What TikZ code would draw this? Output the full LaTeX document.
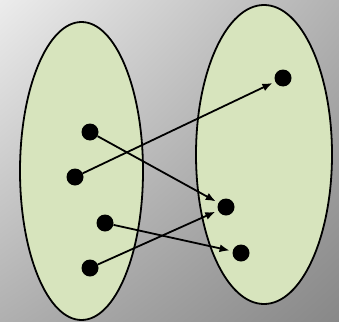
\documentclass[tikz,border=0pt]{standalone}
\usetikzlibrary{arrows.meta,shadings}
\definecolor{setfill}{HTML}{D7E4BD}
\definecolor{bgul}{RGB}{236,236,236}
\definecolor{bgur}{RGB}{178,178,178}
\definecolor{bgll}{RGB}{176,176,176}
\definecolor{bglr}{RGB}{136,136,136}
\tikzset{
  setshape/.style={draw=black, line width=1.8pt, fill=setfill},
  elem/.style={circle, fill=black, inner sep=0pt, minimum size=17pt},
  mapto/.style={-{Latex[length=10pt,width=8pt]}, line width=1.8pt, shorten >=3pt}
}
\begin{document}
\begin{tikzpicture}[x=1pt,y=-1pt]
\useasboundingbox (0,0) rectangle (339,321);
\shade[upper left=bgul, upper right=bgur, lower left=bgll, lower right=bglr]
  (0,0) rectangle (339,321);
\draw[setshape] (81.5,171) ellipse [x radius=61.5, y radius=149];
\draw[setshape] (264,154.5) ellipse [x radius=68, y radius=149.5];
\node[elem] (a1) at (90,132) {};
\node[elem] (a2) at (75,177) {};
\node[elem] (a3) at (105,223) {};
\node[elem] (a4) at (90,268) {};
\node[elem] (b1) at (283,78) {};
\node[elem] (b2) at (226,207) {};
\node[elem] (b3) at (241,253) {};
\draw[mapto] (a2) -- (b1);
\draw[mapto] (a1) -- (b2);
\draw[mapto] (a3) -- (b3);
\draw[mapto] (a4) -- (b2);
\end{tikzpicture}
\end{document}
